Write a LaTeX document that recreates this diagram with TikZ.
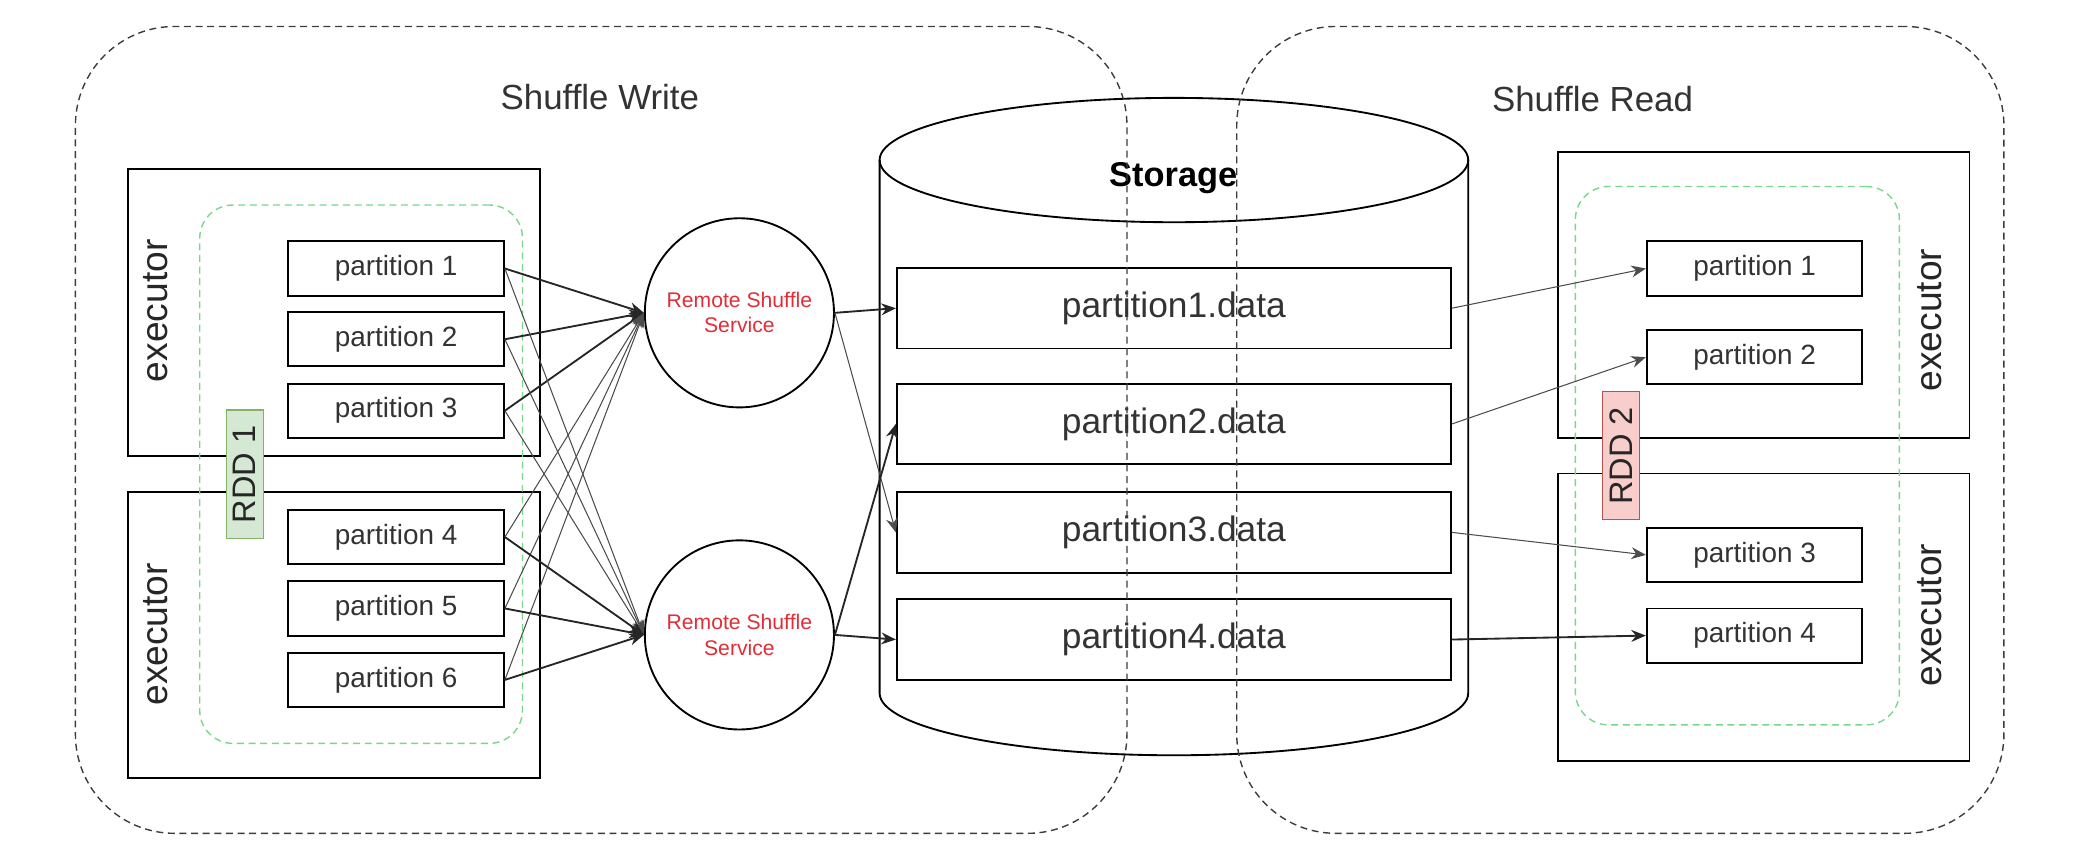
\documentclass[tikz,border=0pt]{standalone}
\usepackage{fontspec}
\setmainfont{Liberation Sans}
\usetikzlibrary{arrows.meta}

\definecolor{rddgreen}{RGB}{120,215,140}
\definecolor{rssred}{RGB}{225,45,55}
\definecolor{stagegray}{RGB}{60,60,60}

\tikzset{
    partbox/.style={draw, line width=0.8pt, minimum width=3.26cm, minimum height=0.82cm, inner sep=0pt, text=black!80, font=\fontsize{12}{14}\selectfont},
    datafile/.style={draw, line width=0.8pt, minimum width=8.38cm, minimum height=1.22cm, inner sep=0pt, text=black!80, font=\fontsize{15.2}{18}\selectfont},
    execbox/.style={draw, line width=0.8pt, minimum width=6.22cm, inner sep=0pt},
    exectext/.style={rotate=90, text=black!85, font=\fontsize{16}{19}\selectfont},
    rddbox/.style={draw=rddgreen, dash pattern=on 3pt off 2pt, line width=0.6pt, rounded corners=0.5cm, inner sep=0pt},
    rddtag/.style={rotate=90, line width=0.5pt, minimum width=1.94cm, minimum height=0.56cm, inner sep=0pt, text=black!85, font=\fontsize{14}{16}\selectfont},
    rss/.style={circle, draw, line width=0.8pt, minimum size=2.86cm, inner sep=0pt, align=center, text=rssred, font=\fontsize{9.1}{10.8}\selectfont},
    stagebox/.style={draw=stagegray, dash pattern=on 3pt off 2pt, line width=0.6pt, rounded corners=1.5cm, minimum height=12.20cm, inner sep=0pt},
    stagelabel/.style={text=black!80, font=\fontsize{15}{18}\selectfont},
    flow/.style={-{Stealth[length=2.2mm,width=1.8mm]}, line width=0.8pt, black!85},
    flowthin/.style={flow, line width=0.45pt, black!70}
}

\begin{document}
\begin{tikzpicture}
    %% canvas
    \useasboundingbox (0,0) rectangle (31.36,-12.98);
    %% storage
    \draw[line width=0.8pt] (13.30,-2.42) -- (13.30,-10.48) arc[start angle=180, end angle=360, x radius=4.45cm, y radius=0.94cm] -- (22.20,-2.42);
    \draw[line width=0.8pt] (17.75,-2.42) ellipse [x radius=4.45cm, y radius=0.94cm];
    \node[font=\bfseries\fontsize{14.8}{17}\selectfont] (storage) at (17.74,-2.70) {Storage};
    \node[datafile] (d1) at (17.75,-4.66) {partition1.data};
    \node[datafile] (d2) at (17.75,-6.41) {partition2.data};
    \node[datafile] (d3) at (17.75,-8.05) {partition3.data};
    \node[datafile] (d4) at (17.75,-9.67) {partition4.data};
    %% write side executors
    \node[execbox, minimum height=4.34cm] (ew1) at (5.05,-4.73) {};
    \node[execbox, minimum height=4.32cm] (ew2) at (5.05,-9.60) {};
    \node[exectext] (ew1txt) at (2.36,-4.70) {executor};
    \node[exectext] (ew2txt) at (2.36,-9.59) {executor};
    \node[rddbox, minimum width=4.88cm, minimum height=8.14cm] (rdd1) at (5.46,-7.17) {};
    \node[rddtag, draw={rgb,255:red,130;green,179;blue,102}, fill={rgb,255:red,213;green,232;blue,212}] (rdd1tag) at (3.70,-7.17) {RDD 1};
    %% write side partitions
    \node[partbox] (wp1) at (5.99,-4.06) {partition 1};
    \node[partbox] (wp2) at (5.99,-5.13) {partition 2};
    \node[partbox] (wp3) at (5.99,-6.21) {partition 3};
    \node[partbox] (wp4) at (5.99,-8.12) {partition 4};
    \node[partbox] (wp5) at (5.99,-9.20) {partition 5};
    \node[partbox] (wp6) at (5.99,-10.28) {partition 6};
    %% remote shuffle services
    \node[rss] (rss1) at (11.18,-4.73) {Remote Shuffle\\Service};
    \node[rss] (rss2) at (11.18,-9.60) {Remote Shuffle\\Service};
    %% read side executors
    \node[execbox, minimum height=4.32cm] (er1) at (26.67,-4.46) {};
    \node[execbox, minimum height=4.34cm] (er2) at (26.67,-9.33) {};
    \node[exectext] (er1txt) at (29.18,-4.84) {executor};
    \node[exectext] (er2txt) at (29.18,-9.30) {executor};
    \node[rddbox, minimum width=4.90cm, minimum height=8.14cm] (rdd2) at (26.27,-6.89) {};
    \node[rddtag, draw={rgb,255:red,184;green,84;blue,80}, fill={rgb,255:red,248;green,206;blue,204}] (rdd2tag) at (24.51,-6.89) {RDD 2};
    %% read side partitions
    \node[partbox] (rp1) at (26.53,-4.06) {partition 1};
    \node[partbox] (rp2) at (26.53,-5.40) {partition 2};
    \node[partbox] (rp3) at (26.53,-8.39) {partition 3};
    \node[partbox] (rp4) at (26.53,-9.61) {partition 4};
    %% partitions to services
    \draw[flow] (wp1.east) -- (rss1.west);
    \draw[flow] (wp2.east) -- (rss1.west);
    \draw[flow] (wp3.east) -- (rss1.west);
    \draw[flowthin] (wp4.east) -- (rss1.west);
    \draw[flowthin] (wp5.east) -- (rss1.west);
    \draw[flowthin] (wp6.east) -- (rss1.west);
    \draw[flowthin] (wp1.east) -- (rss2.west);
    \draw[flowthin] (wp2.east) -- (rss2.west);
    \draw[flowthin] (wp3.east) -- (rss2.west);
    \draw[flow] (wp4.east) -- (rss2.west);
    \draw[flow] (wp5.east) -- (rss2.west);
    \draw[flow] (wp6.east) -- (rss2.west);
    %% services to storage
    \draw[flow] (rss1.east) -- (d1.west);
    \draw[flowthin] (rss1.east) -- (d3.west);
    \draw[flow] (rss2.east) -- (d2.west);
    \draw[flow] (rss2.east) -- (d4.west);
    %% storage to readers
    \draw[flowthin] (d1.east) -- (rp1.west);
    \draw[flowthin] (d2.east) -- (rp2.west);
    \draw[flowthin] (d3.east) -- (rp3.west);
    \draw[flow] (d4.east) -- (rp4.west);
    %% stages
    \node[stagebox, minimum width=15.90cm] (write) at (9.09,-6.50) {};
    \node[stagebox, minimum width=11.60cm] (read) at (24.50,-6.50) {};
    \node[stagelabel] (writelbl) at (9.07,-1.46) {Shuffle Write};
    \node[stagelabel] (readlbl) at (24.08,-1.50) {Shuffle Read};
\end{tikzpicture}
\end{document}
